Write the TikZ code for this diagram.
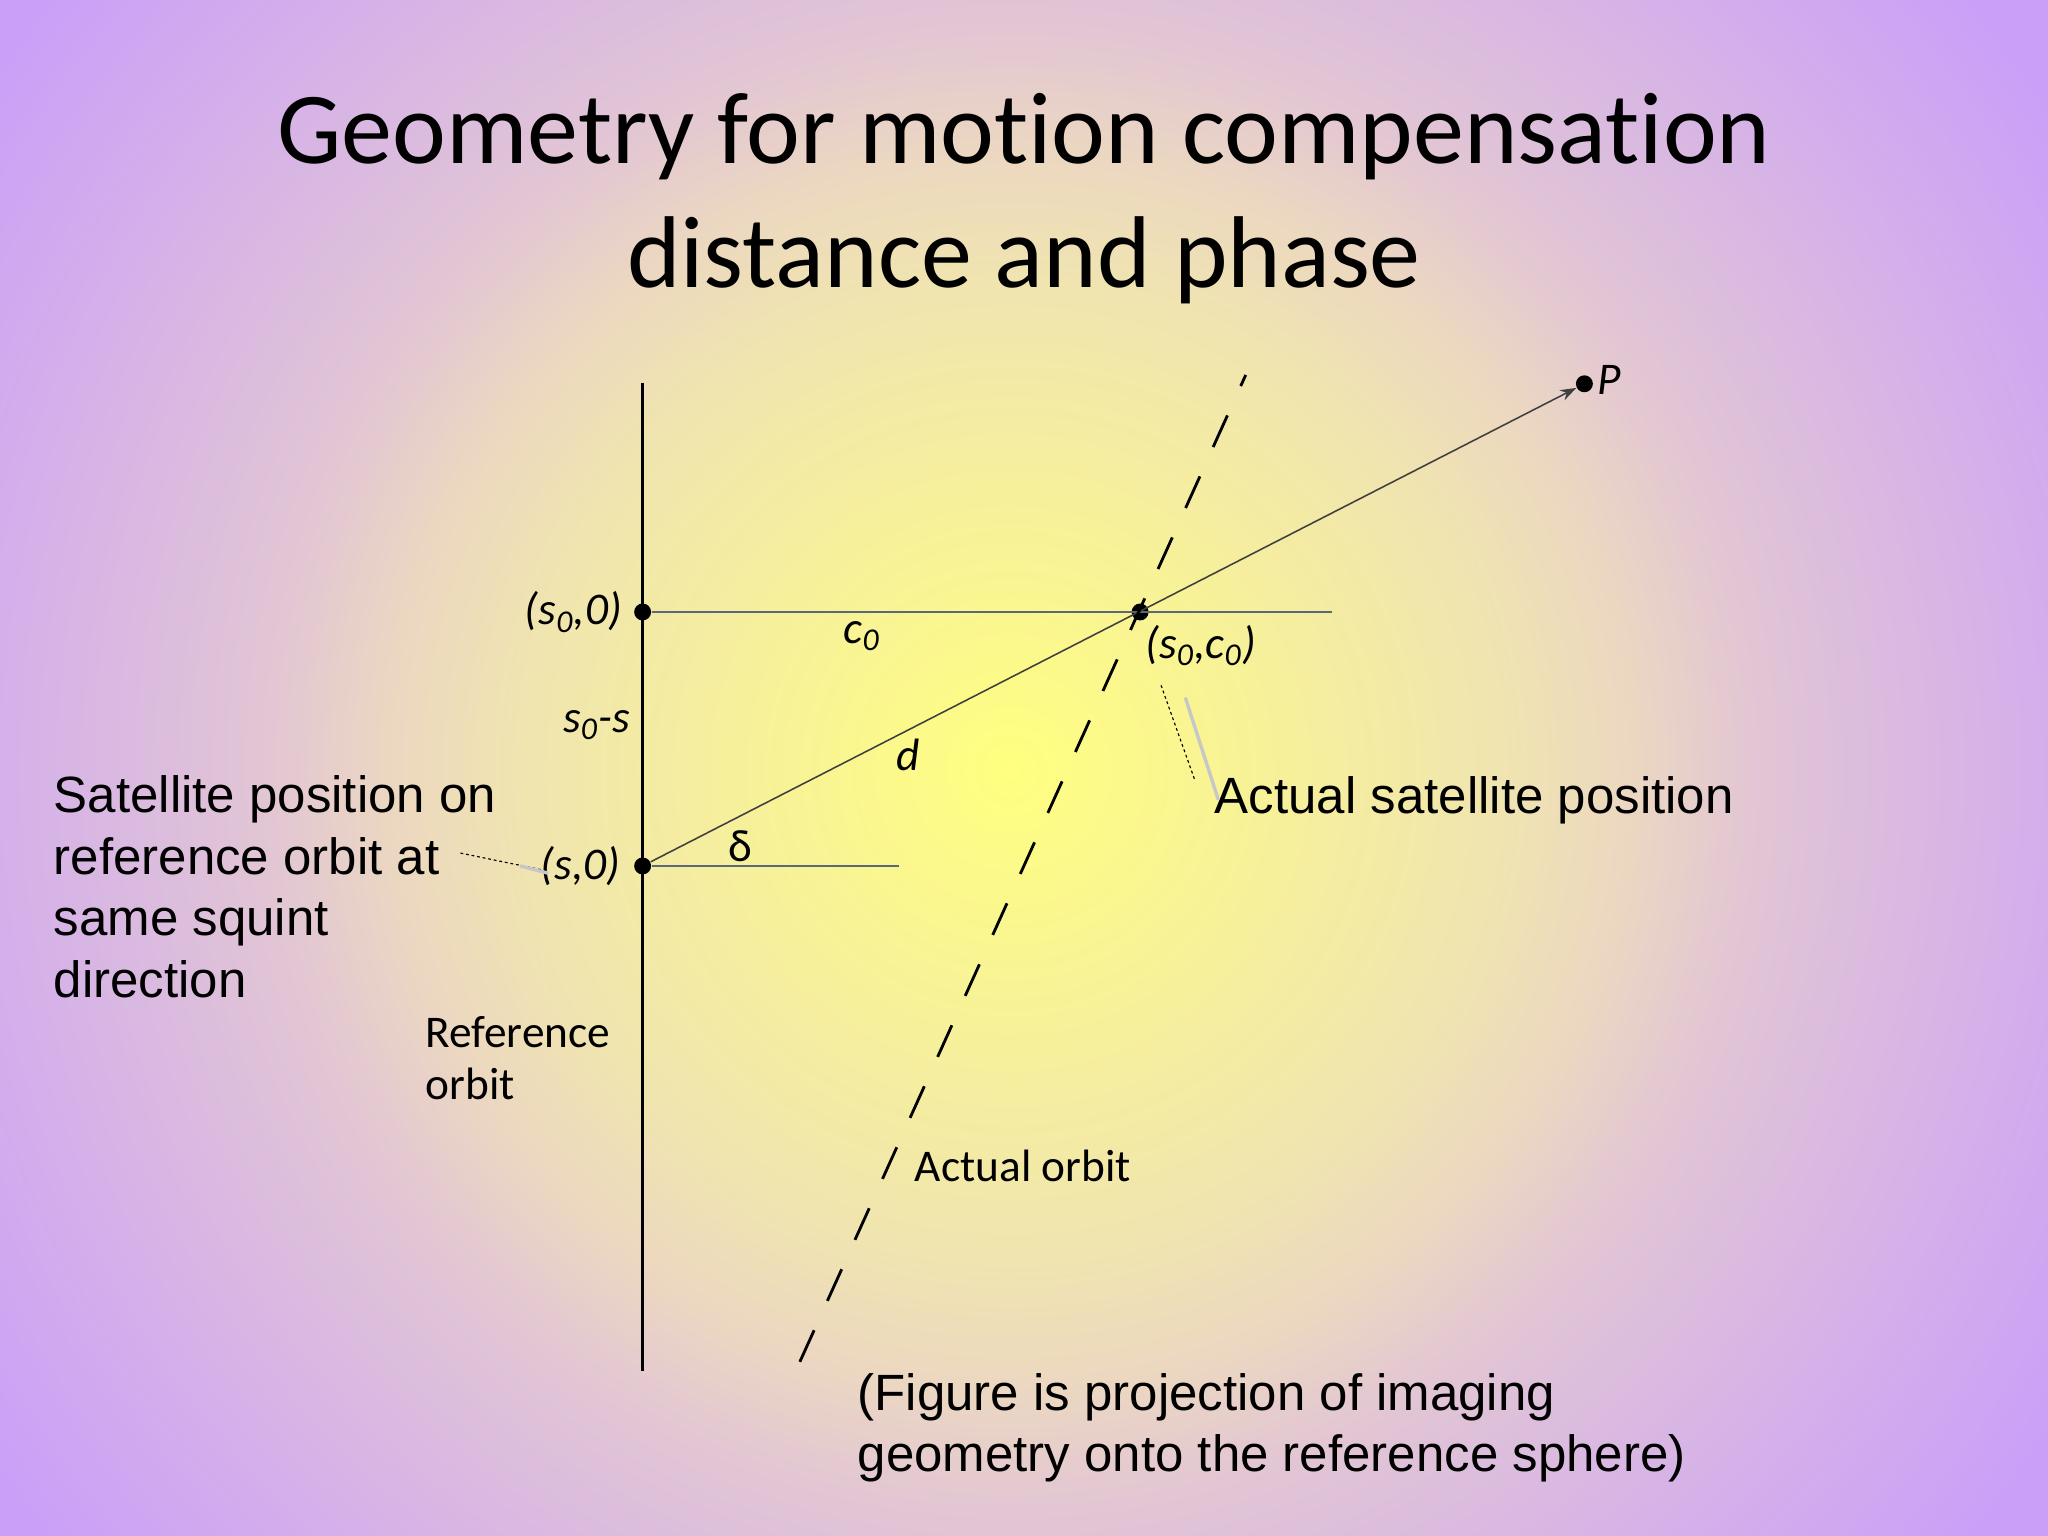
\documentclass[tikz,border=0pt]{standalone}
\usepackage{fontspec}
\usepackage{tikz}
\usetikzlibrary{arrows.meta,positioning}
\setmainfont{Carlito}[Ligatures=NoCommon]
\newfontfamily\slidefont{Liberation Sans}

\definecolor{glowA}{HTML}{FFFF80}
\definecolor{glowB}{HTML}{F0E4B0}
\definecolor{glowC}{HTML}{ECD8C0}
\definecolor{glowD}{HTML}{E2C6D4}
\definecolor{glowE}{HTML}{DCBEDC}
\definecolor{glowF}{HTML}{D6B2E8}
\definecolor{glowG}{HTML}{C8A0F8}
\definecolor{axisgray}{HTML}{5A6878}

\pgfdeclareradialshading{slideglow}{\pgfpointorigin}{color(0cm)=(glowA); color(6.1cm)=(glowB); color(7.6cm)=(glowC); color(9.2cm)=(glowD); color(10.4cm)=(glowE); color(12.2cm)=(glowF); color(15.3cm)=(glowG); color(17cm)=(glowG)}

\tikzset{
    orbdot/.style={circle, fill=black, inner sep=0pt, minimum size=0.21cm},
    lab/.style={inner sep=0pt, font=\fontsize{16}{18.4}\selectfont},
    mlab/.style={lab, font=\fontsize{16}{18.4}\selectfont\itshape},
    slidetxt/.style={inner sep=0pt, align=left, font=\slidefont\fontsize{18}{21.7}\selectfont},
    leader/.style={dash pattern=on 1pt off 1pt, line width=0.4pt},
    shadowline/.style={draw=black!22, line width=1.2pt}
}

\begin{document}
\begin{tikzpicture}
        \useasboundingbox (0,0) rectangle (25.4,19.05);
        \begin{scope}
            \clip (0,0) rectangle (25.4,19.05);
            \node[inner sep=0pt] (glow) at (12.53,9.50) {\pgfuseshading{slideglow}};
        \end{scope}

        % title
        \node[align=center, font=\fontsize{36}{43.7}\selectfont] (title) at (12.70,16.59)
            {Geometry for motion compensation\\distance and phase};

        % orbit points
        \node[orbdot] (S0) at (7.97,11.46) {};
        \node[orbdot] (S)  at (7.97,8.31)  {};
        \node[orbdot] (C)  at (14.14,11.46) {};
        \node[orbdot] (P)  at (19.65,14.29) {};

        \coordinate (RT) at (7.97,14.30);
        \coordinate (RB) at (7.97,2.05);
        \coordinate (H1) at (16.52,11.46);
        \coordinate (H2) at (11.15,8.31);
        \coordinate (AT) at (15.45,14.40);
        \coordinate (AB) at (9.92,2.16);

        \draw[line width=0.9pt] (RT) -- (RB);
        \draw[axisgray, line width=0.7pt] (S0) -- (H1);
        \draw[axisgray, line width=0.7pt] (S) -- (H2);
        \draw[black!75, line width=0.55pt, -{Stealth[length=0.2cm, width=0.14cm]}] (S) -- (P);
        \draw[line width=1pt, dash pattern=on 0.43cm off 0.40cm] (AB) -- (AT);

        % labels
        \node[mlab, anchor=east] (L1) at (7.72,11.46) {(s\textsubscript{0},0)};
        \node[mlab, anchor=east] (L2) at (7.70,8.31)  {(s,0)};
        \node[mlab] (L3) at (10.69,11.16) {c\textsubscript{0}};
        \node[mlab] (L4) at (7.40,10.06)  {s\textsubscript{0}-s};
        \node[mlab] (L5) at (11.26,9.69)  {d};
        \node[lab]  (L6) at (9.18,8.56)   {δ};
        \node[mlab, anchor=west] (L7) at (14.20,11.04) {(s\textsubscript{0},c\textsubscript{0})};
        \node[mlab, anchor=west] (L8) at (19.81,14.34) {P};
        \node[lab, anchor=west, align=left] (L9) at (5.27,5.93) {Reference\\orbit};
        \node[lab, anchor=west] (L10) at (11.34,4.59) {Actual orbit};

        % slide text
        \node[slidetxt, anchor=west] (T1) at (0.66,8.05)
            {Satellite position on\\reference orbit at\\same squint\\direction};
        \node[slidetxt, anchor=west] (T2) at (15.06,9.13) {Actual satellite position};
        \node[slidetxt, anchor=west] (T3) at (10.63,1.34)
            {(Figure is projection of imaging\\geometry onto the reference sphere)};

        % leaders
        \coordinate (Q1) at (5.71,8.47);
        \coordinate (Q2) at (6.73,8.26);
        \coordinate (Q3) at (6.45,8.31);
        \coordinate (Q4) at (6.80,8.22);
        \draw[leader] (Q1) -- (Q2);
        \draw[shadowline] (Q3) -- (Q4);
        \coordinate (R1) at (14.40,10.55);
        \coordinate (R2) at (14.82,9.37);
        \coordinate (R3) at (14.70,10.40);
        \coordinate (R4) at (15.11,9.13);
        \draw[leader] (R1) -- (R2);
        \draw[shadowline] (R3) -- (R4);
\end{tikzpicture}
\end{document}
